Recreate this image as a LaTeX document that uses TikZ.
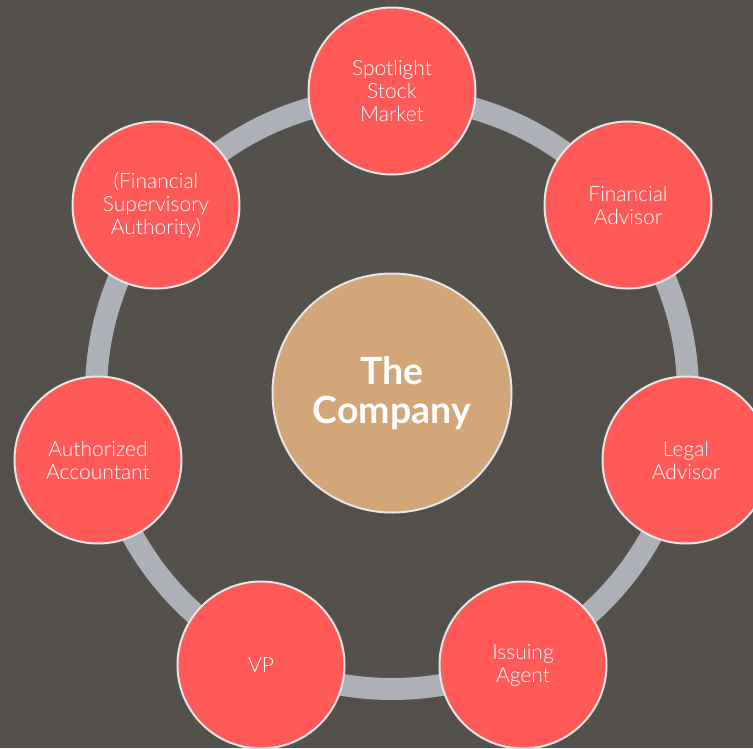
\documentclass[tikz,border=0pt]{standalone}
\usepackage{fontspec}
\setmainfont{Lato}
\newfontfamily\lightfont{Lato Light}
\definecolor{bgc}{HTML}{54504B}
\definecolor{ringc}{HTML}{ADB0B7}
\definecolor{redc}{HTML}{FF5A58}
\definecolor{tanc}{HTML}{D2A678}
\definecolor{edgec}{HTML}{E6E6E6}
\tikzset{
  outer/.style={circle, fill=redc, draw=edgec, line width=2pt, minimum size=167pt, inner sep=0pt,
    text=white, align=center, font=\lightfont\fontsize{21}{23}\selectfont},
  hub/.style={circle, fill=tanc, draw=edgec, line width=2pt, minimum size=239pt, inner sep=0pt,
    text=white, align=center, font=\fontsize{37.5}{39}\selectfont\bfseries},
  ring/.style={draw=ringc, line width=22pt}
}
\begin{document}
\begin{tikzpicture}[x=1pt,y=-1pt]
\useasboundingbox (0,0) rectangle (753,748);
\fill[bgc] (0,0) rectangle (753,748);
\clip (0,0) rectangle (753,748);
\coordinate (c) at (392,393);
\draw[ring] (c) circle (296);
\node[hub] (company) at (c) {The\\Company};
\node[outer] (spot) at (392,91) {Spotlight\\Stock\\Market};
\node[outer] (fa) at (628,205) {Financial\\Advisor};
\node[outer] (legal) at (686,460) {Legal\\Advisor};
\node[outer] (issue) at (523,665) {Issuing\\Agent};
\node[outer] (vp) at (261,665) {VP};
\node[outer] (acc) at (98,460) {Authorized\\Accountant};
\node[outer] (fsa) at (156,205) {(Financial\\Supervisory\\Authority)};
\end{tikzpicture}
\end{document}
